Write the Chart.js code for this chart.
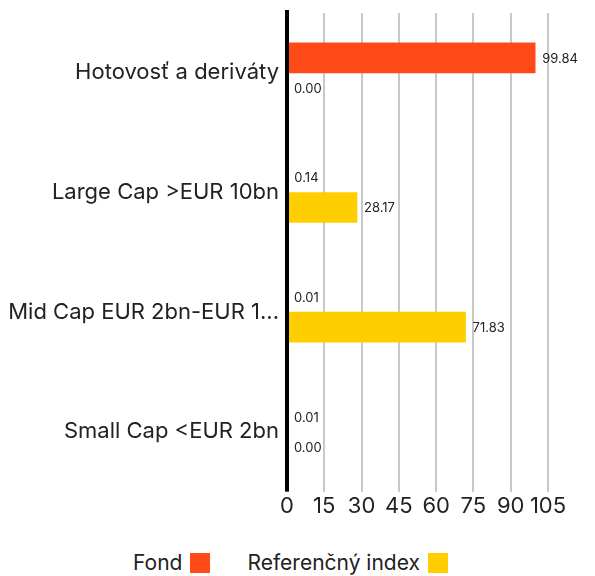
<!DOCTYPE html>
<html>
<head>
<meta charset="utf-8">
<script src="https://cdn.jsdelivr.net/npm/chart.js@4"></script>
<style>
  body { margin: 0; background: #fff; font-family: Inter, sans-serif; }
  #wrap { position: relative; width: 595px; height: 522px; }
  #legend { position: absolute; top: 549px; left: -7px; width: 595px; display: flex; justify-content: center; gap: 37px; font-size: 21px; line-height: 28px; color: #222; }
  .item { display: flex; align-items: center; }
  .box { width: 20px; height: 20px; margin-left: 8px; display: inline-block; }
</style>
</head>
<body>
<div id="wrap"><canvas id="chart"></canvas></div>
<div id="legend"></div>
<script>
const categories = ["Hotovosť a deriváty", "Large Cap >EUR 10bn", "Mid Cap EUR 2bn-EUR 1...", "Small Cap <EUR 2bn"];
const fondValues = [99.84, 0.14, 0.01, 0.01];
const indexValues = [0.00, 28.17, 71.83, 0.00];
const seriesNames = ["Fond", "Referenčný index"];
const seriesColors = ["#ff4a17", "#ffce00"];

// popisky hodnôt vpravo od stĺpcov + hrubá čierna os
const valueLabels = {
  id: "valueLabels",
  afterDatasetsDraw(chart) {
    const ctx = chart.ctx;
    const area = chart.chartArea;
    ctx.save();
    ctx.fillStyle = "#000";
    ctx.fillRect(area.left - 2, area.top - 3, 4, area.bottom - area.top + 3);
    ctx.font = "13px Inter, sans-serif";
    ctx.fillStyle = "#222";
    ctx.textBaseline = "middle";
    chart.data.datasets.forEach((ds, i) => {
      chart.getDatasetMeta(i).data.forEach((bar, j) => {
        ctx.fillText(ds.data[j].toFixed(2), bar.x + 7, bar.y + 1);
      });
    });
    ctx.restore();
  }
};

new Chart(document.getElementById("chart"), {
  type: "bar",
  data: {
    labels: categories,
    datasets: [
      { label: seriesNames[0], data: fondValues, backgroundColor: seriesColors[0], barThickness: 30 },
      { label: seriesNames[1], data: indexValues, backgroundColor: seriesColors[1], barThickness: 30 }
    ]
  },
  options: {
    indexAxis: "y",
    responsive: true,
    maintainAspectRatio: false,
    animation: false,
    layout: { padding: { top: 13, right: 47, left: 0, bottom: 0 } },
    scales: {
      x: {
        min: 0,
        max: 105,
        ticks: { stepSize: 15, color: "#222", font: { size: 22, family: "Inter" }, padding: 2, maxRotation: 0, autoSkip: false },
        grid: { color: "#c8c8c8", lineWidth: 2, drawTicks: false },
        border: { display: false }
      },
      y: {
        ticks: { color: "#222", font: { size: 22, family: "Inter" }, padding: 8 },
        grid: { display: false, drawTicks: false },
        border: { display: false },
        afterFit(scale) {
          scale.width = 287;
          scale.paddingTop = 0;
          scale.paddingBottom = 0;
        }
      }
    },
    plugins: {
      legend: { display: false },
      tooltip: { enabled: false }
    }
  },
  plugins: [valueLabels]
});

document.getElementById("legend").innerHTML = seriesNames
  .map((n, i) => `<span class="item">${n}<span class="box" style="background:${seriesColors[i]}"></span></span>`)
  .join("");
</script>
</body>
</html>
